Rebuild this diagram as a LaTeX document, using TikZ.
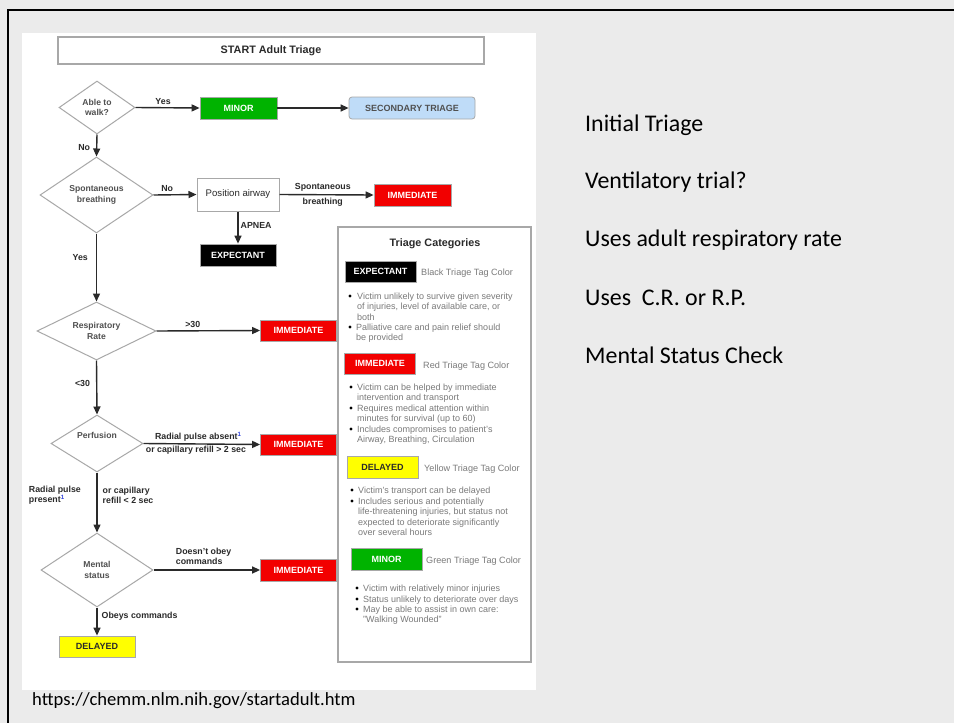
\documentclass[tikz,border=0pt]{standalone}
\usepackage{fontspec}
\setmainfont{Liberation Sans}
\newfontfamily\slidefont{Carlito}
\usetikzlibrary{shapes.geometric,arrows.meta}

\definecolor{slidebg}{HTML}{EBEBEB}
\definecolor{tagred}{HTML}{F20000}
\definecolor{taggreen}{HTML}{00B300}
\definecolor{tagyellow}{HTML}{FFFF00}
\definecolor{tagblue}{HTML}{BFDCF8}
\definecolor{ink}{HTML}{2A2A2A}
\definecolor{softink}{HTML}{505050}
\definecolor{legendtext}{HTML}{7A7A7A}
\definecolor{edgegray}{HTML}{A8A8A8}
\definecolor{notelink}{HTML}{3344DD}

\tikzset{
  flowline/.style={draw=ink, line width=1.4pt, -{Triangle[length=8pt,width=7pt]}},
  decision/.style={diamond, aspect=1.6, draw=edgegray, line width=1pt, fill=white,
    inner sep=0pt, align=center, text=softink,
    font=\fontsize{8.6}{10.5}\selectfont\bfseries},
  tagbase/.style={rectangle, inner sep=0pt, draw=edgegray, line width=0.8pt,
    font=\fontsize{9}{10}\selectfont\bfseries},
  redtag/.style={tagbase, fill=tagred, text=white, minimum width=76pt, minimum height=21pt},
  greentag/.style={tagbase, fill=taggreen, text=white, minimum width=77pt, minimum height=22pt},
  blacktag/.style={tagbase, fill=black, text=white, minimum width=76pt, minimum height=22pt},
  yellowtag/.style={tagbase, fill=tagyellow, text=ink, minimum width=76pt, minimum height=21pt},
  processbox/.style={rectangle, draw=edgegray, line width=1pt, fill=white, inner sep=0pt,
    font=\fontsize{9.6}{11}\selectfont, text=ink},
  edgelabel/.style={inner sep=1.5pt, text=ink, align=left,
    font=\fontsize{8.8}{10.5}\selectfont\bfseries},
  legendtag/.style={minimum width=71pt, minimum height=21pt},
  legendnote/.style={anchor=west, inner sep=0pt, text=legendtext,
    font=\fontsize{9.1}{10.4}\selectfont},
  legendlist/.style={anchor=north west, inner sep=0pt, align=left, text=legendtext,
    font=\fontsize{9}{10.4}\selectfont},
  bulletdot/.style={fill=black},
  slidetext/.style={anchor=west, inner sep=0pt, text=black,
    font=\fontsize{23.9}{28}\slidefont},
}

\newcommand{\noteone}{\textsuperscript{\textcolor{notelink}{1}}}

\begin{document}
\begin{tikzpicture}[x=1pt,y=-1pt]
  % slide background and frame
  \fill[slidebg] (0,0) rectangle (954,723);
  \useasboundingbox (0,0) rectangle (954,723);
  \draw[line width=2.2pt] (8,723) -- (8,10) -- (954,10);

  % white sheet carrying the flow chart
  \fill[white] (22,33) rectangle (536,690);

  % heading
  \node[draw=edgegray, line width=1.4pt, fill=white, minimum width=426pt, minimum height=27pt,
        inner sep=0pt, text=ink, font=\fontsize{10.8}{12}\selectfont\bfseries]
        (title) at (271,50.5) {START Adult Triage};

  % decisions
  \node[decision, minimum width=76pt, minimum height=53pt] (walk) at (97,107.5) {Able to\\walk?};
  \node[decision, minimum width=113pt, minimum height=76pt] (breath) at (96.5,195) {Spontaneous\\breathing};
  \node[decision, minimum width=119pt, minimum height=58pt] (resp) at (96.5,331) {Respiratory\\Rate};
  \node[decision, minimum width=92pt, minimum height=57pt] (perf) at (97,443.5) {Perfusion\\[6pt]};
  \node[decision, minimum width=112pt, minimum height=74pt] (mental) at (97,570) {Mental\\status};

  % outcomes
  \node[greentag] (minor) at (238.5,108) {MINOR};
  \node[tagbase, fill=tagblue, text=softink, rounded corners=3pt, minimum width=126pt,
        minimum height=22pt] (secondary) at (412,108) {SECONDARY TRIAGE};
  \node[processbox, minimum width=82pt, minimum height=33pt] (airway) at (238,194.5) {Position airway};
  \node[redtag, minimum width=77pt, minimum height=22pt] (immA) at (412.5,195) {IMMEDIATE};
  \node[blacktag] (expectant) at (238,255) {EXPECTANT};
  \node[redtag] (immB) at (298.5,330.5) {IMMEDIATE};
  \node[redtag] (immC) at (298.5,444.5) {IMMEDIATE};
  \node[redtag, minimum height=22pt] (immD) at (298.5,570) {IMMEDIATE};
  \node[yellowtag] (delayed) at (97,646.5) {DELAYED};

  % connectors
  \draw[flowline] (walk.east) -- node[edgelabel, pos=0.43, above=1pt] {Yes} (minor.west);
  \draw[flowline] (minor.east) -- (secondary.west);
  \draw[flowline] (walk.south) -- node[edgelabel, pos=0.6, left=4.5pt] {No} (breath.north);
  \draw[flowline] (breath.east) -- node[edgelabel, pos=0.32, above=1pt] {No} (airway.west);
  \draw[flowline] (airway.east) --
      node[edgelabel, pos=0.46, above=1pt] {Spontaneous}
      node[edgelabel, pos=0.46, below=1pt] {breathing} (immA.west);
  \draw[flowline] (airway.south) -- node[edgelabel, pos=0.42, right=0.5pt] {APNEA} (expectant.north);
  \draw[flowline] (breath.south) -- node[edgelabel, pos=0.36, left=6.5pt] {Yes} (resp.north);
  \draw[flowline] (resp.east) -- node[edgelabel, pos=0.35, above=1pt] {>30} (immB.west);
  \draw[flowline] (resp.south) -- node[edgelabel, pos=0.42, left=4.5pt] {<30} (perf.north);
  \draw[flowline] (perf.east) --
      node[edgelabel, pos=0.47, above=0pt] {Radial pulse absent\noteone}
      node[edgelabel, pos=0.45, below=0pt] {or capillary refill > 2 sec} (immC.west);
  \draw[flowline] (perf.south) --
      node[edgelabel, pos=0.38, left=14pt] {Radial pulse\\present\noteone}
      node[edgelabel, pos=0.38, right=3.5pt] {or capillary\\refill < 2 sec} (mental.north);
  \draw[flowline] (mental.east) -- node[edgelabel, pos=0.47, above=3pt] {Doesn't obey\\commands} (immD.west);
  \draw[flowline] (mental.south) -- node[edgelabel, pos=0.31, right=2.5pt] {Obeys commands} (delayed.north);

  % legend
  \node[draw=edgegray, line width=1.3pt, fill=white, minimum width=193pt, minimum height=435pt,
        inner sep=0pt] (legend) at (434.5,444.5) {};
  \node[text=ink, inner sep=0pt, font=\fontsize{10.8}{12}\selectfont\bfseries]
        (legendhead) at (435,244) {Triage Categories};

  \node[blacktag, legendtag] (lgexpectant) at (380.5,271.5) {EXPECTANT};
  \node[legendnote] (lgexpectantnote) at (421,273) {Black Triage Tag Color};
  \fill[bulletdot] (350,296) circle (1.6);
  \node[legendlist] (lgexpectantA) at (357,292.7) {Victim unlikely to survive given severity\\of injuries, level of available care, or\\both};
  \fill[bulletdot] (350,327) circle (1.6);
  \node[legendlist] (lgexpectantB) at (356,323.7) {Palliative care and pain relief should\\be provided};

  \node[redtag, legendtag] (lgimmediate) at (380,363.5) {IMMEDIATE};
  \node[legendnote] (lgimmediatenote) at (423,366) {Red Triage Tag Color};
  \fill[bulletdot] (351,387) circle (1.6);
  \node[legendlist] (lgimmediateA) at (357,383.7) {Victim can be helped by immediate\\intervention and transport};
  \fill[bulletdot] (351,408) circle (1.6);
  \node[legendlist] (lgimmediateB) at (357,404.7) {Requires medical attention within\\minutes for survival (up to 60)};
  \fill[bulletdot] (351,429) circle (1.6);
  \node[legendlist] (lgimmediateC) at (357,425.7) {Includes compromises to patient's\\Airway, Breathing, Circulation};

  \node[yellowtag, legendtag, minimum height=22pt] (lgdelayed) at (382.5,467) {DELAYED};
  \node[legendnote] (lgdelayednote) at (424,469) {Yellow Triage Tag Color};
  \fill[bulletdot] (352,490) circle (1.6);
  \node[legendlist] (lgdelayedA) at (358,486.7) {Victim's transport can be delayed};
  \fill[bulletdot] (352,501) circle (1.6);
  \node[legendlist] (lgdelayedB) at (358,497.7) {Includes serious and potentially\\life-threatening injuries, but status not\\expected to deteriorate significantly\\over several hours};

  \node[greentag, legendtag, minimum height=22pt] (lgminor) at (386.5,559) {MINOR};
  \node[legendnote] (lgminornote) at (426,561) {Green Triage Tag Color};
  \fill[bulletdot] (357,588) circle (1.6);
  \node[legendlist] (lgminorA) at (363,584.7) {Victim with relatively minor injuries};
  \fill[bulletdot] (357,599) circle (1.6);
  \node[legendlist] (lgminorB) at (363,595.7) {Status unlikely to deteriorate over days};
  \fill[bulletdot] (357,609) circle (1.6);
  \node[legendlist] (lgminorC) at (363,605.7) {May be able to assist in own care:\\"Walking Wounded"};

  % slide notes
  \node[slidetext] (noteA) at (585,125) {Initial Triage};
  \node[slidetext] (noteB) at (585,182) {Ventilatory trial?};
  \node[slidetext] (noteC) at (585,240) {Uses adult respiratory rate};
  \node[slidetext] (noteD) at (585,298) {Uses\ \ C.R. or R.P.};
  \node[slidetext] (noteE) at (585,355) {Mental Status Check};

  % source
  \node[anchor=west, inner sep=0pt, text=black, font=\fontsize{18.6}{22}\slidefont]
        (source) at (32,701) {https://chemm.nlm.nih.gov/startadult.htm};
\end{tikzpicture}
\end{document}
